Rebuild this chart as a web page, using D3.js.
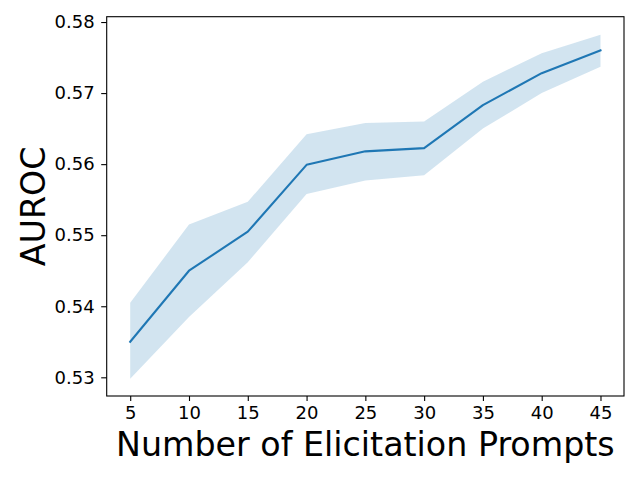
<!DOCTYPE html>
<html>
<head>
<meta charset="utf-8">
<script src="https://cdn.jsdelivr.net/npm/d3@7"></script>
<style>
  html, body { margin: 0; padding: 0; background: #fff; }
  svg { display: block; font-family: "DejaVu Sans", sans-serif; }
</style>
</head>
<body>
<svg id="chart" width="639" height="479"></svg>
<script>
const prompts = [5, 10, 15, 20, 25, 30, 35, 40, 45];
const meanAuroc = [0.5350, 0.5450, 0.5505, 0.5599, 0.5618, 0.56225, 0.5683, 0.5728, 0.5760];
const upperAuroc = [0.5405, 0.5515, 0.5547, 0.5642, 0.5658, 0.5660, 0.5716, 0.5756, 0.5782];
const lowerAuroc = [0.5298, 0.5385, 0.5462, 0.5558, 0.5577, 0.55845, 0.5650, 0.5700, 0.5737];
const xTicks = [5, 10, 15, 20, 25, 30, 35, 40, 45];
const yTicks = [0.53, 0.54, 0.55, 0.56, 0.57, 0.58];

const plotLeft = 106.7, plotRight = 624, plotTop = 16.7, plotBottom = 396;
const svg = d3.select("#chart");

const x = d3.scaleLinear().domain([3, 47]).range([plotLeft, plotRight]);
const y = d3.scaleLinear().domain([0.52737, 0.58075]).range([plotBottom, plotTop]);

const rows = prompts.map((p, i) => ({ p, m: meanAuroc[i], lo: lowerAuroc[i], hi: upperAuroc[i] }));
const color = "#1f77b4";

svg.append("path")
  .datum(rows)
  .attr("fill", color)
  .attr("fill-opacity", 0.2)
  .attr("d", d3.area().x(d => x(d.p)).y0(d => y(d.lo)).y1(d => y(d.hi)));

svg.append("path")
  .datum(rows)
  .attr("fill", "none")
  .attr("stroke", color)
  .attr("stroke-width", 2.08)
  .attr("stroke-linejoin", "round")
  .attr("stroke-linecap", "square")
  .attr("d", d3.line().x(d => x(d.p)).y(d => y(d.m)));

const xAxis = svg.append("g")
  .attr("transform", `translate(0,${plotBottom})`)
  .call(d3.axisBottom(x).tickValues(xTicks).tickFormat(d3.format("d")).tickSize(5).tickPadding(5));
const yAxis = svg.append("g")
  .attr("transform", `translate(${plotLeft},0)`)
  .call(d3.axisLeft(y).tickValues(yTicks).tickFormat(d3.format(".2f")).tickSize(5.5).tickPadding(6.5));

[xAxis, yAxis].forEach(g => {
  g.attr("font-size", 18).attr("font-family", "DejaVu Sans");
  g.select(".domain").remove();
  g.selectAll(".tick line").attr("stroke", "#000").attr("stroke-width", 1.1);
  g.selectAll(".tick text").attr("fill", "#000").style("font-size", "18px");
});

svg.append("rect")
  .attr("x", plotLeft).attr("y", plotTop)
  .attr("width", plotRight - plotLeft).attr("height", plotBottom - plotTop)
  .attr("fill", "none").attr("stroke", "#000").attr("stroke-width", 1.1);

svg.append("text")
  .attr("x", (plotLeft + plotRight) / 2).attr("y", 456)
  .attr("text-anchor", "middle")
  .style("font-size", "33.3px")
  .text("Number of Elicitation Prompts");

svg.append("text")
  .attr("transform", `translate(44.5,${(plotTop + plotBottom) / 2}) rotate(-90)`)
  .attr("text-anchor", "middle")
  .style("font-size", "33.3px")
  .text("AUROC");
</script>
</body>
</html>
